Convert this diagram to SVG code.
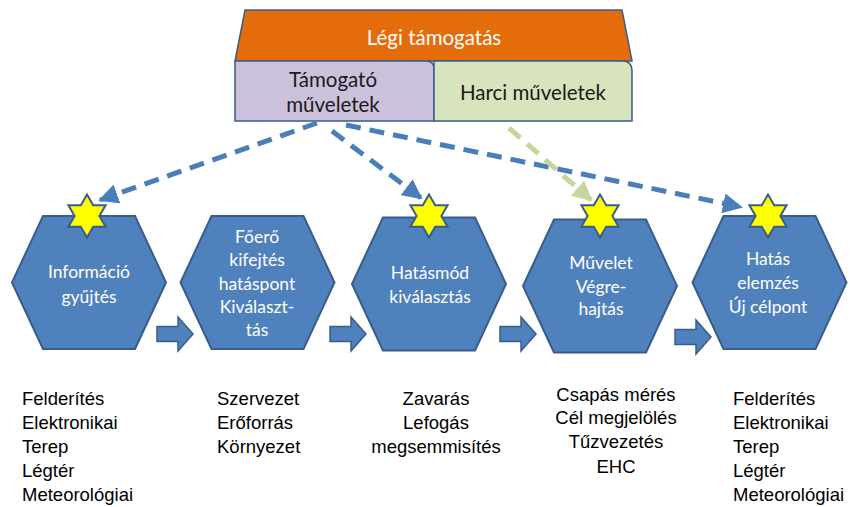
<svg xmlns="http://www.w3.org/2000/svg" xmlns:xlink="http://www.w3.org/1999/xlink" width="850" height="507" viewBox="0 0 850 507">
<style>
.hex{fill:#4F81BD;stroke:#385D8A;stroke-width:2}
.star{fill:#FFFF00;stroke:#385D8A;stroke-width:2;stroke-linejoin:miter}
.blk{fill:#4F81BD;stroke:#385D8A;stroke-width:1.5}
.ht{font-family:Lato,"Open Sans",sans-serif;font-size:17.5px;fill:#FFFFFF;text-anchor:middle}
.tt{font-family:Lato,"Open Sans",sans-serif;font-size:20.5px;fill:#1a1a1a;text-anchor:middle}
.bt{font-family:"Liberation Sans",Arial,sans-serif;font-size:18.5px;fill:#000000}
.dash{fill:none;stroke:#4A7EBB;stroke-width:5;stroke-dasharray:15 9}
.gdash{fill:none;stroke:#C3D69B;stroke-width:5;stroke-dasharray:15 9}
</style>
<defs>
<polygon id="hexshape" points="-77,0 -46,-66.5 46,-66.5 77,0 46,66.5 -46,66.5"/>
<polygon id="starshape" points="0,-21.5 6.2,-10.75 18.6,-10.75 12.4,0 18.6,10.75 6.2,10.75 0,21.5 -6.2,10.75 -18.6,10.75 -12.4,0 -18.6,-10.75 -6.2,-10.75"/>
<polygon id="blkarrow" points="0,-7.5 21,-7.5 21,-17 36,0 21,17 21,7.5 0,7.5"/>
<marker id="ah" viewBox="0 0 10 10" refX="9" refY="5" markerWidth="4" markerHeight="4" orient="auto" markerUnits="strokeWidth">
<path d="M0,0 L10,5 L0,10 z" fill="#4A7EBB"/>
</marker>
<marker id="ahg" viewBox="0 0 10 10" refX="9" refY="5" markerWidth="4" markerHeight="4" orient="auto" markerUnits="strokeWidth">
<path d="M0,0 L10,5 L0,10 z" fill="#C3D69B"/>
</marker>
</defs>
<rect width="850" height="507" fill="#FFFFFF"/>

<g id="legi-tamogatas">
<polygon points="245,10 622,10 632,61 235,61" fill="#E46C0A" stroke="#385D8A" stroke-width="1.5"/>
<text class="tt" x="434" y="45" style="fill:#FFFFFF">Légi támogatás</text>
</g>
<g id="tamogato">
<path d="M235,61 L426,61 Q434,61 434,69 L434,121 L235,121 Z" fill="#CCC1DA" stroke="#385D8A" stroke-width="1.5"/>
<text class="tt" x="333" y="87">Támogató</text>
<text class="tt" x="333" y="112">műveletek</text>
</g>
<g id="harci">
<path d="M434,61 L622,61 Q632,61 632,71 L632,121 L434,121 Z" fill="#D7E4BD" stroke="#385D8A" stroke-width="1.5"/>
<text class="tt" x="533" y="100">Harci műveletek</text>
</g>

<g id="connectors">
<line class="dash" x1="317" y1="123" x2="100" y2="200" marker-end="url(#ah)"/>
<line class="dash" x1="332" y1="131" x2="421" y2="198" marker-end="url(#ah)"/>
<line class="dash" x1="346" y1="125" x2="741" y2="207" marker-end="url(#ah)"/>
<line class="gdash" x1="509" y1="128" x2="591" y2="200" marker-end="url(#ahg)"/>
<use href="#blkarrow" class="blk" x="157" y="334"/>
<use href="#blkarrow" class="blk" x="330" y="334"/>
<use href="#blkarrow" class="blk" x="500" y="334"/>
<use href="#blkarrow" class="blk" x="675" y="337"/>
</g>

<g id="hex1">
<use href="#hexshape" class="hex" x="89" y="282.5"/>
<use href="#starshape" class="star" x="87" y="216"/>
<text class="ht" x="89" y="278">Információ</text>
<text class="ht" x="89" y="303">gyűjtés</text>
</g>
<g id="hex2">
<use href="#hexshape" class="hex" x="257.5" y="282.5"/>
<text class="ht" x="257" y="243">Főerő</text>
<text class="ht" x="257" y="266">kifejtés</text>
<text class="ht" x="257" y="290">hatáspont</text>
<text class="ht" x="257" y="313">Kiválaszt-</text>
<text class="ht" x="257" y="336">tás</text>
</g>
<g id="hex3">
<use href="#hexshape" class="hex" x="429" y="284"/>
<use href="#starshape" class="star" x="429" y="216"/>
<text class="ht" x="430" y="279">Hatásmód</text>
<text class="ht" x="430" y="303">kiválasztás</text>
</g>
<g id="hex4">
<use href="#hexshape" class="hex" x="600" y="286"/>
<use href="#starshape" class="star" x="600" y="216"/>
<text class="ht" x="601" y="269">Művelet</text>
<text class="ht" x="601" y="293">Végre-</text>
<text class="ht" x="601" y="315">hajtás</text>
</g>
<g id="hex5">
<use href="#hexshape" class="hex" x="769.5" y="282.5"/>
<use href="#starshape" class="star" x="768" y="216"/>
<text class="ht" x="768" y="265">Hatás</text>
<text class="ht" x="768" y="289">elemzés</text>
<text class="ht" x="768" y="313">Új célpont</text>
</g>

<g id="list1">
<text class="bt" x="22" y="405">Felderítés</text>
<text class="bt" x="22" y="429">Elektronikai</text>
<text class="bt" x="22" y="453">Terep</text>
<text class="bt" x="22" y="477">Légtér</text>
<text class="bt" x="22" y="501">Meteorológiai</text>
</g>
<g id="list2">
<text class="bt" x="217" y="405">Szervezet</text>
<text class="bt" x="217" y="429">Erőforrás</text>
<text class="bt" x="217" y="453">Környezet</text>
</g>
<g id="list3">
<text class="bt" x="436" y="405" text-anchor="middle">Zavarás</text>
<text class="bt" x="436" y="429" text-anchor="middle">Lefogás</text>
<text class="bt" x="436" y="453" text-anchor="middle">megsemmisítés</text>
</g>
<g id="list4">
<text class="bt" x="616" y="401" text-anchor="middle">Csapás mérés</text>
<text class="bt" x="616" y="424" text-anchor="middle">Cél megjelölés</text>
<text class="bt" x="616" y="448" text-anchor="middle">Tűzvezetés</text>
<text class="bt" x="616" y="473" text-anchor="middle">EHC</text>
</g>
<g id="list5">
<text class="bt" x="733" y="405">Felderítés</text>
<text class="bt" x="733" y="429">Elektronikai</text>
<text class="bt" x="733" y="453">Terep</text>
<text class="bt" x="733" y="477">Légtér</text>
<text class="bt" x="733" y="501">Meteorológiai</text>
</g>
</svg>
